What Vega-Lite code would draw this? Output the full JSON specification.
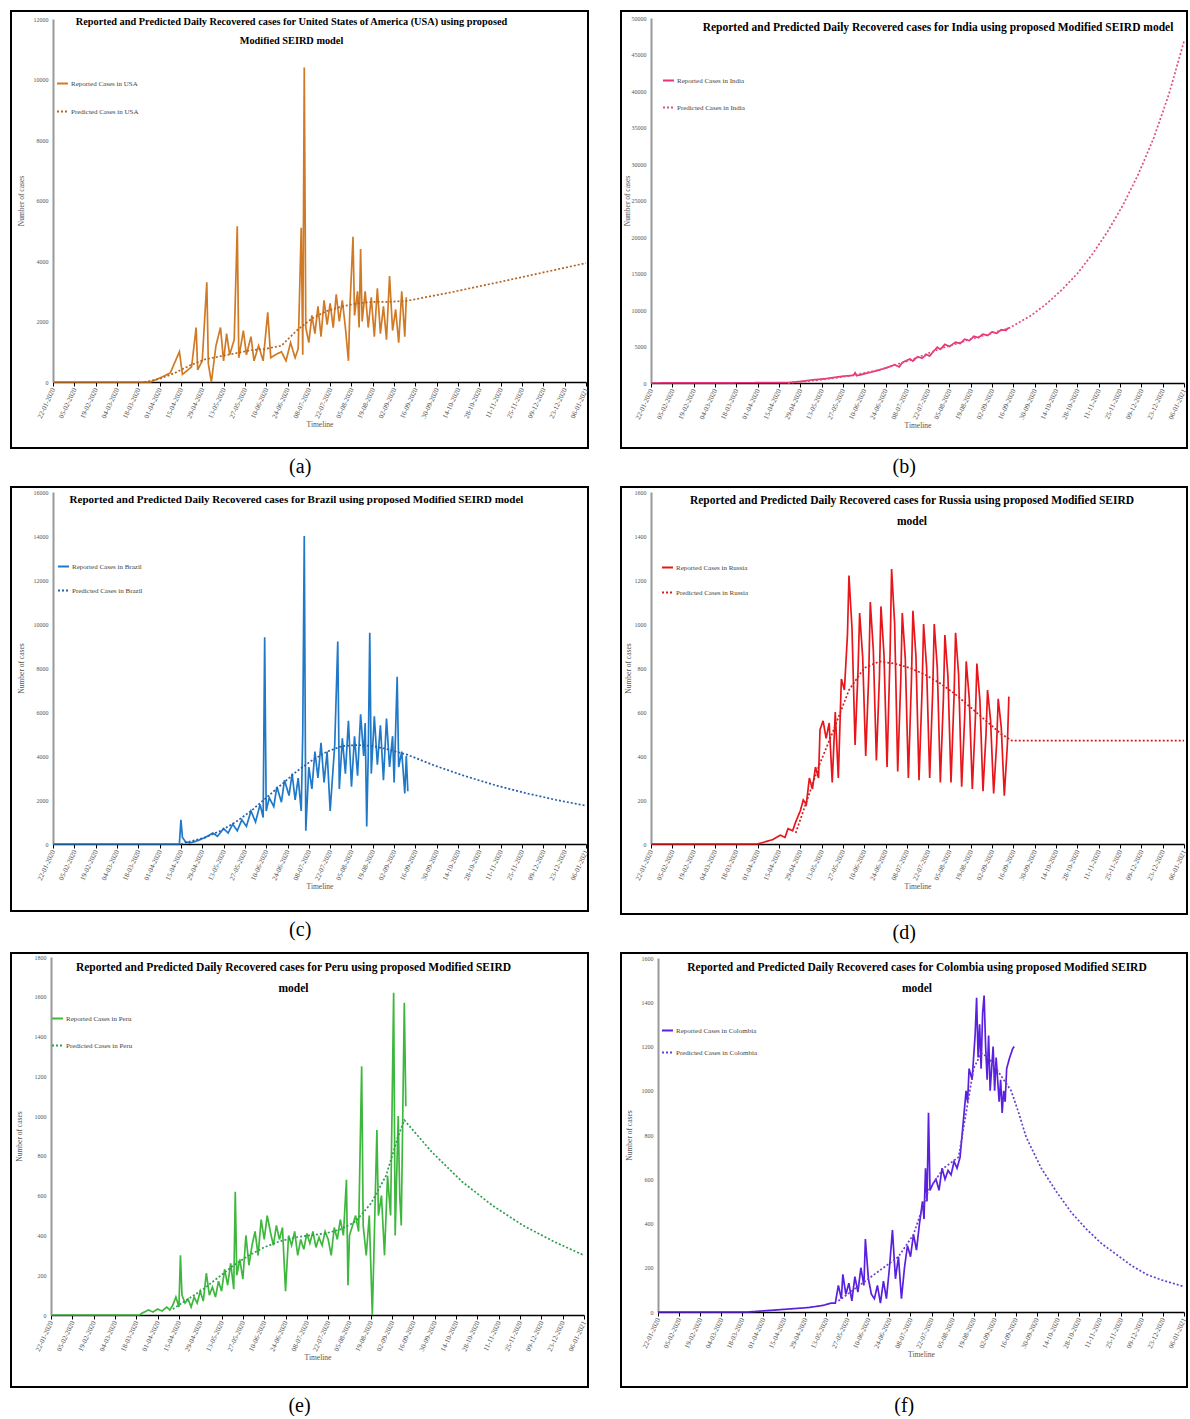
{
"$schema": "https://vega.github.io/schema/vega-lite/v6.json",
"padding": {"left": 10, "top": 10, "right": 0, "bottom": 0},
"autosize": {"type": "pad"},
"config": {
  "font": "Liberation Serif",
  "view": {"stroke": "black", "strokeWidth": 2},
  "axis": {"grid": false, "labelFont": "Liberation Serif", "titleFont": "Liberation Serif", "labelColor": "#555", "titleColor": "#555", "titleFontWeight": "normal"},
  "axisX": {"domainColor": "black", "domainWidth": 1.5, "tickColor": "black", "tickSize": 4, "labelAngle": 295, "labelFontSize": 7, "titleFontSize": 7.5, "titlePadding": 2, "labelExpr": "utcFormat(datum.value, '%d-%m-%Y')"},
  "axisY": {"domainColor": "#999", "domainWidth": 2, "ticks": false, "labelFontSize": 6, "labelPadding": 5, "titleFontSize": 7.5, "titleBaseline": "middle"},
  "legend": {"orient": "none", "title": null, "labelFontSize": 7, "labelFont": "Liberation Serif", "labelColor": "#444", "symbolType": "stroke", "symbolSize": 120, "symbolStrokeWidth": 2, "padding": 0, "labelOffset": 2},
  "title": {"font": "Liberation Serif", "fontWeight": "bold", "color": "black", "anchor": "middle", "frame": "group"}
},
"resolve": {"scale": {"color": "independent", "strokeDash": "independent", "x": "independent", "y": "independent"}, "legend": {"color": "independent", "strokeDash": "independent"}},
"spacing": 9,
"datasets": {
"usa": [
{"d":"2020-01-22","s":"Reported","v":0},{"d":"2020-03-26","s":"Reported","v":0},{"d":"2020-04-02","s":"Reported","v":150},{"d":"2020-04-08","s":"Reported","v":300},{"d":"2020-04-14","s":"Reported","v":1000},{"d":"2020-04-16","s":"Reported","v":250},{"d":"2020-04-22","s":"Reported","v":500},{"d":"2020-04-25","s":"Reported","v":1800},{"d":"2020-04-26","s":"Reported","v":400},{"d":"2020-04-29","s":"Reported","v":700},{"d":"2020-05-02","s":"Reported","v":3300},{"d":"2020-05-03","s":"Reported","v":600},{"d":"2020-05-05","s":"Reported","v":0},{"d":"2020-05-08","s":"Reported","v":1200},{"d":"2020-05-11","s":"Reported","v":1800},{"d":"2020-05-13","s":"Reported","v":700},{"d":"2020-05-15","s":"Reported","v":1600},{"d":"2020-05-17","s":"Reported","v":900},{"d":"2020-05-20","s":"Reported","v":1400},{"d":"2020-05-22","s":"Reported","v":5150},{"d":"2020-05-23","s":"Reported","v":800},{"d":"2020-05-26","s":"Reported","v":1700},{"d":"2020-05-28","s":"Reported","v":900},{"d":"2020-05-31","s":"Reported","v":1500},{"d":"2020-06-02","s":"Reported","v":700},{"d":"2020-06-05","s":"Reported","v":1200},{"d":"2020-06-08","s":"Reported","v":700},{"d":"2020-06-11","s":"Reported","v":2300},{"d":"2020-06-13","s":"Reported","v":800},{"d":"2020-06-16","s":"Reported","v":900},{"d":"2020-06-20","s":"Reported","v":1000},{"d":"2020-06-23","s":"Reported","v":700},{"d":"2020-06-26","s":"Reported","v":1300},{"d":"2020-06-29","s":"Reported","v":800},{"d":"2020-07-01","s":"Reported","v":1100},{"d":"2020-07-03","s":"Reported","v":5100},{"d":"2020-07-04","s":"Reported","v":900},{"d":"2020-07-05","s":"Reported","v":10400},{"d":"2020-07-06","s":"Reported","v":1800},{"d":"2020-07-08","s":"Reported","v":1300},{"d":"2020-07-10","s":"Reported","v":2200},{"d":"2020-07-12","s":"Reported","v":1600},{"d":"2020-07-14","s":"Reported","v":2500},{"d":"2020-07-16","s":"Reported","v":1500},{"d":"2020-07-18","s":"Reported","v":2700},{"d":"2020-07-20","s":"Reported","v":1900},{"d":"2020-07-22","s":"Reported","v":2600},{"d":"2020-07-24","s":"Reported","v":1800},{"d":"2020-07-26","s":"Reported","v":2900},{"d":"2020-07-28","s":"Reported","v":2000},{"d":"2020-07-30","s":"Reported","v":2700},{"d":"2020-08-01","s":"Reported","v":1800},{"d":"2020-08-03","s":"Reported","v":700},{"d":"2020-08-04","s":"Reported","v":2500},{"d":"2020-08-06","s":"Reported","v":4800},{"d":"2020-08-07","s":"Reported","v":2200},{"d":"2020-08-09","s":"Reported","v":3000},{"d":"2020-08-10","s":"Reported","v":1800},{"d":"2020-08-11","s":"Reported","v":4400},{"d":"2020-08-12","s":"Reported","v":2000},{"d":"2020-08-14","s":"Reported","v":3000},{"d":"2020-08-16","s":"Reported","v":1800},{"d":"2020-08-18","s":"Reported","v":2800},{"d":"2020-08-20","s":"Reported","v":1500},{"d":"2020-08-22","s":"Reported","v":3100},{"d":"2020-08-24","s":"Reported","v":1600},{"d":"2020-08-26","s":"Reported","v":2500},{"d":"2020-08-28","s":"Reported","v":1400},{"d":"2020-08-30","s":"Reported","v":3500},{"d":"2020-09-01","s":"Reported","v":1700},{"d":"2020-09-03","s":"Reported","v":2400},{"d":"2020-09-05","s":"Reported","v":1300},{"d":"2020-09-07","s":"Reported","v":3000},{"d":"2020-09-09","s":"Reported","v":1500},{"d":"2020-09-10","s":"Reported","v":2800},
{"d":"2020-03-22","s":"Predicted","v":0},{"d":"2020-04-01","s":"Predicted","v":100},{"d":"2020-04-11","s":"Predicted","v":300},{"d":"2020-04-21","s":"Predicted","v":550},{"d":"2020-05-01","s":"Predicted","v":750},{"d":"2020-05-11","s":"Predicted","v":850},{"d":"2020-05-21","s":"Predicted","v":950},{"d":"2020-05-31","s":"Predicted","v":1050},{"d":"2020-06-10","s":"Predicted","v":1100},{"d":"2020-06-20","s":"Predicted","v":1200},{"d":"2020-06-30","s":"Predicted","v":1700},{"d":"2020-07-10","s":"Predicted","v":2100},{"d":"2020-07-20","s":"Predicted","v":2350},{"d":"2020-07-30","s":"Predicted","v":2500},{"d":"2020-08-09","s":"Predicted","v":2600},{"d":"2020-08-19","s":"Predicted","v":2650},{"d":"2020-08-29","s":"Predicted","v":2650},{"d":"2020-09-10","s":"Predicted","v":2680},{"d":"2020-10-08","s":"Predicted","v":2950},{"d":"2020-11-07","s":"Predicted","v":3270},{"d":"2020-12-07","s":"Predicted","v":3600},{"d":"2021-01-06","s":"Predicted","v":3930}
],
"india": [
{"d":"2020-01-22","s":"Reported","v":0},{"d":"2020-04-21","s":"Reported","v":50},{"d":"2020-04-26","s":"Reported","v":150},{"d":"2020-05-01","s":"Reported","v":250},{"d":"2020-05-06","s":"Reported","v":400},{"d":"2020-05-11","s":"Reported","v":500},{"d":"2020-05-16","s":"Reported","v":600},{"d":"2020-05-21","s":"Reported","v":750},{"d":"2020-05-26","s":"Reported","v":900},{"d":"2020-05-31","s":"Reported","v":1000},{"d":"2020-06-03","s":"Reported","v":1050},{"d":"2020-06-04","s":"Reported","v":1400},{"d":"2020-06-05","s":"Reported","v":1000},{"d":"2020-06-10","s":"Reported","v":1250},{"d":"2020-06-15","s":"Reported","v":1500},{"d":"2020-06-20","s":"Reported","v":1800},{"d":"2020-06-25","s":"Reported","v":2100},{"d":"2020-06-30","s":"Reported","v":2500},{"d":"2020-07-03","s":"Reported","v":2200},{"d":"2020-07-05","s":"Reported","v":2800},{"d":"2020-07-10","s":"Reported","v":3300},{"d":"2020-07-12","s":"Reported","v":3000},{"d":"2020-07-15","s":"Reported","v":3600},{"d":"2020-07-18","s":"Reported","v":3400},{"d":"2020-07-21","s":"Reported","v":3900},{"d":"2020-07-23","s":"Reported","v":3700},{"d":"2020-07-25","s":"Reported","v":4200},{"d":"2020-07-28","s":"Reported","v":4900},{"d":"2020-07-30","s":"Reported","v":4600},{"d":"2020-08-02","s":"Reported","v":5300},{"d":"2020-08-05","s":"Reported","v":5000},{"d":"2020-08-09","s":"Reported","v":5600},{"d":"2020-08-12","s":"Reported","v":5400},{"d":"2020-08-15","s":"Reported","v":6000},{"d":"2020-08-18","s":"Reported","v":5800},{"d":"2020-08-21","s":"Reported","v":6400},{"d":"2020-08-24","s":"Reported","v":6200},{"d":"2020-08-27","s":"Reported","v":6700},{"d":"2020-08-30","s":"Reported","v":6500},{"d":"2020-09-02","s":"Reported","v":7000},{"d":"2020-09-05","s":"Reported","v":6800},{"d":"2020-09-08","s":"Reported","v":7300},{"d":"2020-09-11","s":"Reported","v":7200},{"d":"2020-09-13","s":"Reported","v":7600},
{"d":"2020-04-21","s":"Predicted","v":0},{"d":"2020-05-11","s":"Predicted","v":400},{"d":"2020-05-31","s":"Predicted","v":950},{"d":"2020-06-20","s":"Predicted","v":1800},{"d":"2020-07-10","s":"Predicted","v":3100},{"d":"2020-07-30","s":"Predicted","v":4700},{"d":"2020-08-19","s":"Predicted","v":6000},{"d":"2020-09-13","s":"Predicted","v":7500},{"d":"2020-09-28","s":"Predicted","v":9300},{"d":"2020-10-08","s":"Predicted","v":10900},{"d":"2020-10-18","s":"Predicted","v":12800},{"d":"2020-10-28","s":"Predicted","v":15000},{"d":"2020-11-07","s":"Predicted","v":17700},{"d":"2020-11-17","s":"Predicted","v":20800},{"d":"2020-11-27","s":"Predicted","v":24400},{"d":"2020-12-07","s":"Predicted","v":28600},{"d":"2020-12-17","s":"Predicted","v":33500},{"d":"2020-12-27","s":"Predicted","v":39500},{"d":"2021-01-06","s":"Predicted","v":46800}
],
"brazil": [
{"d":"2020-01-22","s":"Reported","v":0},{"d":"2020-04-14","s":"Reported","v":0},{"d":"2020-04-15","s":"Reported","v":1100},{"d":"2020-04-16","s":"Reported","v":300},{"d":"2020-04-18","s":"Reported","v":100},{"d":"2020-04-21","s":"Reported","v":50},{"d":"2020-04-26","s":"Reported","v":150},{"d":"2020-05-01","s":"Reported","v":300},{"d":"2020-05-06","s":"Reported","v":500},{"d":"2020-05-09","s":"Reported","v":350},{"d":"2020-05-13","s":"Reported","v":700},{"d":"2020-05-16","s":"Reported","v":500},{"d":"2020-05-19","s":"Reported","v":900},{"d":"2020-05-22","s":"Reported","v":600},{"d":"2020-05-25","s":"Reported","v":1100},{"d":"2020-05-28","s":"Reported","v":800},{"d":"2020-05-31","s":"Reported","v":1500},{"d":"2020-06-03","s":"Reported","v":1000},{"d":"2020-06-06","s":"Reported","v":1800},{"d":"2020-06-08","s":"Reported","v":1200},{"d":"2020-06-09","s":"Reported","v":9400},{"d":"2020-06-10","s":"Reported","v":1500},{"d":"2020-06-12","s":"Reported","v":2100},{"d":"2020-06-15","s":"Reported","v":1700},{"d":"2020-06-17","s":"Reported","v":2600},{"d":"2020-06-20","s":"Reported","v":1900},{"d":"2020-06-22","s":"Reported","v":2900},{"d":"2020-06-25","s":"Reported","v":2200},{"d":"2020-06-27","s":"Reported","v":3200},{"d":"2020-06-29","s":"Reported","v":2000},{"d":"2020-07-01","s":"Reported","v":3000},{"d":"2020-07-03","s":"Reported","v":1500},{"d":"2020-07-04","s":"Reported","v":5000},{"d":"2020-07-05","s":"Reported","v":14000},{"d":"2020-07-06","s":"Reported","v":600},{"d":"2020-07-08","s":"Reported","v":3500},{"d":"2020-07-10","s":"Reported","v":2500},{"d":"2020-07-12","s":"Reported","v":4200},{"d":"2020-07-14","s":"Reported","v":3000},{"d":"2020-07-16","s":"Reported","v":4600},{"d":"2020-07-18","s":"Reported","v":2800},{"d":"2020-07-20","s":"Reported","v":4200},{"d":"2020-07-22","s":"Reported","v":1500},{"d":"2020-07-25","s":"Reported","v":4500},{"d":"2020-07-27","s":"Reported","v":9200},{"d":"2020-07-28","s":"Reported","v":2500},{"d":"2020-07-30","s":"Reported","v":4800},{"d":"2020-08-01","s":"Reported","v":3200},{"d":"2020-08-03","s":"Reported","v":5600},{"d":"2020-08-05","s":"Reported","v":2600},{"d":"2020-08-07","s":"Reported","v":4900},{"d":"2020-08-09","s":"Reported","v":3100},{"d":"2020-08-11","s":"Reported","v":5900},{"d":"2020-08-13","s":"Reported","v":4000},{"d":"2020-08-14","s":"Reported","v":5500},{"d":"2020-08-15","s":"Reported","v":800},{"d":"2020-08-16","s":"Reported","v":4000},{"d":"2020-08-17","s":"Reported","v":9600},{"d":"2020-08-18","s":"Reported","v":3200},{"d":"2020-08-20","s":"Reported","v":5800},{"d":"2020-08-22","s":"Reported","v":3600},{"d":"2020-08-24","s":"Reported","v":5400},{"d":"2020-08-26","s":"Reported","v":2900},{"d":"2020-08-28","s":"Reported","v":5700},{"d":"2020-08-30","s":"Reported","v":3500},{"d":"2020-09-01","s":"Reported","v":4900},{"d":"2020-09-02","s":"Reported","v":2800},{"d":"2020-09-04","s":"Reported","v":7600},{"d":"2020-09-05","s":"Reported","v":3500},{"d":"2020-09-07","s":"Reported","v":4200},{"d":"2020-09-09","s":"Reported","v":2300},{"d":"2020-09-10","s":"Reported","v":4000},{"d":"2020-09-11","s":"Reported","v":2400},
{"d":"2020-04-15","s":"Predicted","v":0},{"d":"2020-05-01","s":"Predicted","v":300},{"d":"2020-05-11","s":"Predicted","v":600},{"d":"2020-05-21","s":"Predicted","v":1000},{"d":"2020-05-31","s":"Predicted","v":1500},{"d":"2020-06-10","s":"Predicted","v":2100},{"d":"2020-06-20","s":"Predicted","v":2700},{"d":"2020-06-30","s":"Predicted","v":3300},{"d":"2020-07-10","s":"Predicted","v":3800},{"d":"2020-07-20","s":"Predicted","v":4200},{"d":"2020-07-30","s":"Predicted","v":4450},{"d":"2020-08-09","s":"Predicted","v":4500},{"d":"2020-08-19","s":"Predicted","v":4450},{"d":"2020-08-29","s":"Predicted","v":4300},{"d":"2020-09-11","s":"Predicted","v":4050},{"d":"2020-09-28","s":"Predicted","v":3580},{"d":"2020-10-18","s":"Predicted","v":3100},{"d":"2020-11-07","s":"Predicted","v":2680},{"d":"2020-11-27","s":"Predicted","v":2320},{"d":"2020-12-17","s":"Predicted","v":2010},{"d":"2021-01-06","s":"Predicted","v":1740}
],
"russia": [
{"d":"2020-01-22","s":"Reported","v":0},{"d":"2020-04-01","s":"Reported","v":0},{"d":"2020-04-06","s":"Reported","v":10},{"d":"2020-04-11","s":"Reported","v":20},{"d":"2020-04-16","s":"Reported","v":40},{"d":"2020-04-19","s":"Reported","v":30},{"d":"2020-04-21","s":"Reported","v":70},{"d":"2020-04-24","s":"Reported","v":60},{"d":"2020-04-26","s":"Reported","v":100},{"d":"2020-04-29","s":"Reported","v":150},{"d":"2020-05-01","s":"Reported","v":200},{"d":"2020-05-03","s":"Reported","v":180},{"d":"2020-05-05","s":"Reported","v":300},{"d":"2020-05-07","s":"Reported","v":250},{"d":"2020-05-09","s":"Reported","v":350},{"d":"2020-05-11","s":"Reported","v":300},{"d":"2020-05-12","s":"Reported","v":520},{"d":"2020-05-14","s":"Reported","v":560},{"d":"2020-05-16","s":"Reported","v":480},{"d":"2020-05-18","s":"Reported","v":550},{"d":"2020-05-20","s":"Reported","v":280},{"d":"2020-05-22","s":"Reported","v":600},{"d":"2020-05-24","s":"Reported","v":300},{"d":"2020-05-26","s":"Reported","v":750},{"d":"2020-05-28","s":"Reported","v":700},{"d":"2020-05-30","s":"Reported","v":950},{"d":"2020-05-31","s":"Reported","v":1220},{"d":"2020-06-02","s":"Reported","v":980},{"d":"2020-06-04","s":"Reported","v":450},{"d":"2020-06-06","s":"Reported","v":800},{"d":"2020-06-07","s":"Reported","v":1050},{"d":"2020-06-09","s":"Reported","v":850},{"d":"2020-06-11","s":"Reported","v":400},{"d":"2020-06-13","s":"Reported","v":770},{"d":"2020-06-14","s":"Reported","v":1100},{"d":"2020-06-16","s":"Reported","v":880},{"d":"2020-06-18","s":"Reported","v":380},{"d":"2020-06-20","s":"Reported","v":760},{"d":"2020-06-21","s":"Reported","v":1080},{"d":"2020-06-23","s":"Reported","v":860},{"d":"2020-06-25","s":"Reported","v":350},{"d":"2020-06-27","s":"Reported","v":870},{"d":"2020-06-28","s":"Reported","v":1250},{"d":"2020-06-30","s":"Reported","v":1000},{"d":"2020-07-02","s":"Reported","v":330},{"d":"2020-07-04","s":"Reported","v":740},{"d":"2020-07-05","s":"Reported","v":1050},{"d":"2020-07-07","s":"Reported","v":840},{"d":"2020-07-09","s":"Reported","v":300},{"d":"2020-07-11","s":"Reported","v":740},{"d":"2020-07-12","s":"Reported","v":1060},{"d":"2020-07-14","s":"Reported","v":850},{"d":"2020-07-16","s":"Reported","v":290},{"d":"2020-07-18","s":"Reported","v":700},{"d":"2020-07-19","s":"Reported","v":1000},{"d":"2020-07-21","s":"Reported","v":800},{"d":"2020-07-23","s":"Reported","v":300},{"d":"2020-07-25","s":"Reported","v":700},{"d":"2020-07-26","s":"Reported","v":1000},{"d":"2020-07-28","s":"Reported","v":800},{"d":"2020-07-30","s":"Reported","v":280},{"d":"2020-08-01","s":"Reported","v":660},{"d":"2020-08-02","s":"Reported","v":950},{"d":"2020-08-04","s":"Reported","v":760},{"d":"2020-08-06","s":"Reported","v":280},{"d":"2020-08-08","s":"Reported","v":670},{"d":"2020-08-09","s":"Reported","v":960},{"d":"2020-08-11","s":"Reported","v":770},{"d":"2020-08-13","s":"Reported","v":260},{"d":"2020-08-15","s":"Reported","v":580},{"d":"2020-08-16","s":"Reported","v":830},{"d":"2020-08-18","s":"Reported","v":660},{"d":"2020-08-20","s":"Reported","v":250},{"d":"2020-08-22","s":"Reported","v":570},{"d":"2020-08-23","s":"Reported","v":820},{"d":"2020-08-25","s":"Reported","v":650},{"d":"2020-08-27","s":"Reported","v":240},{"d":"2020-08-29","s":"Reported","v":500},{"d":"2020-08-30","s":"Reported","v":700},{"d":"2020-09-01","s":"Reported","v":560},{"d":"2020-09-03","s":"Reported","v":230},{"d":"2020-09-05","s":"Reported","v":460},{"d":"2020-09-06","s":"Reported","v":660},{"d":"2020-09-08","s":"Reported","v":530},{"d":"2020-09-10","s":"Reported","v":220},{"d":"2020-09-12","s":"Reported","v":450},{"d":"2020-09-13","s":"Reported","v":670},
{"d":"2020-04-26","s":"Predicted","v":50},{"d":"2020-05-01","s":"Predicted","v":150},{"d":"2020-05-11","s":"Predicted","v":350},{"d":"2020-05-21","s":"Predicted","v":520},{"d":"2020-05-31","s":"Predicted","v":700},{"d":"2020-06-10","s":"Predicted","v":800},{"d":"2020-06-20","s":"Predicted","v":830},{"d":"2020-06-30","s":"Predicted","v":820},{"d":"2020-07-10","s":"Predicted","v":800},{"d":"2020-07-20","s":"Predicted","v":770},{"d":"2020-07-30","s":"Predicted","v":730},{"d":"2020-08-09","s":"Predicted","v":680},{"d":"2020-08-19","s":"Predicted","v":620},{"d":"2020-08-29","s":"Predicted","v":560},{"d":"2020-09-08","s":"Predicted","v":500},{"d":"2020-09-15","s":"Predicted","v":470},{"d":"2020-10-08","s":"Predicted","v":470},{"d":"2020-11-07","s":"Predicted","v":470},{"d":"2020-12-07","s":"Predicted","v":470},{"d":"2021-01-06","s":"Predicted","v":470}
],
"peru": [
{"d":"2020-01-22","s":"Reported","v":0},{"d":"2020-03-20","s":"Reported","v":0},{"d":"2020-03-22","s":"Reported","v":10},{"d":"2020-03-26","s":"Reported","v":25},{"d":"2020-03-29","s":"Reported","v":15},{"d":"2020-04-01","s":"Reported","v":30},{"d":"2020-04-04","s":"Reported","v":20},{"d":"2020-04-07","s":"Reported","v":40},{"d":"2020-04-09","s":"Reported","v":25},{"d":"2020-04-11","s":"Reported","v":50},{"d":"2020-04-13","s":"Reported","v":90},{"d":"2020-04-15","s":"Reported","v":40},{"d":"2020-04-16","s":"Reported","v":300},{"d":"2020-04-17","s":"Reported","v":100},{"d":"2020-04-19","s":"Reported","v":60},{"d":"2020-04-21","s":"Reported","v":80},{"d":"2020-04-23","s":"Reported","v":40},{"d":"2020-04-25","s":"Reported","v":90},{"d":"2020-04-27","s":"Reported","v":60},{"d":"2020-04-29","s":"Reported","v":120},{"d":"2020-05-01","s":"Reported","v":70},{"d":"2020-05-03","s":"Reported","v":210},{"d":"2020-05-05","s":"Reported","v":100},{"d":"2020-05-07","s":"Reported","v":140},{"d":"2020-05-09","s":"Reported","v":90},{"d":"2020-05-11","s":"Reported","v":170},{"d":"2020-05-13","s":"Reported","v":120},{"d":"2020-05-15","s":"Reported","v":230},{"d":"2020-05-17","s":"Reported","v":150},{"d":"2020-05-19","s":"Reported","v":260},{"d":"2020-05-21","s":"Reported","v":130},{"d":"2020-05-22","s":"Reported","v":620},{"d":"2020-05-23","s":"Reported","v":200},{"d":"2020-05-25","s":"Reported","v":280},{"d":"2020-05-27","s":"Reported","v":180},{"d":"2020-05-29","s":"Reported","v":400},{"d":"2020-05-31","s":"Reported","v":250},{"d":"2020-06-02","s":"Reported","v":350},{"d":"2020-06-04","s":"Reported","v":420},{"d":"2020-06-06","s":"Reported","v":300},{"d":"2020-06-08","s":"Reported","v":480},{"d":"2020-06-10","s":"Reported","v":380},{"d":"2020-06-12","s":"Reported","v":500},{"d":"2020-06-14","s":"Reported","v":420},{"d":"2020-06-16","s":"Reported","v":350},{"d":"2020-06-18","s":"Reported","v":450},{"d":"2020-06-20","s":"Reported","v":380},{"d":"2020-06-22","s":"Reported","v":440},{"d":"2020-06-24","s":"Reported","v":120},{"d":"2020-06-26","s":"Reported","v":400},{"d":"2020-06-28","s":"Reported","v":350},{"d":"2020-06-30","s":"Reported","v":420},{"d":"2020-07-02","s":"Reported","v":300},{"d":"2020-07-04","s":"Reported","v":380},{"d":"2020-07-06","s":"Reported","v":330},{"d":"2020-07-08","s":"Reported","v":410},{"d":"2020-07-10","s":"Reported","v":360},{"d":"2020-07-12","s":"Reported","v":420},{"d":"2020-07-14","s":"Reported","v":340},{"d":"2020-07-16","s":"Reported","v":390},{"d":"2020-07-18","s":"Reported","v":350},{"d":"2020-07-20","s":"Reported","v":420},{"d":"2020-07-22","s":"Reported","v":380},{"d":"2020-07-24","s":"Reported","v":300},{"d":"2020-07-26","s":"Reported","v":440},{"d":"2020-07-28","s":"Reported","v":380},{"d":"2020-07-30","s":"Reported","v":480},{"d":"2020-08-01","s":"Reported","v":400},{"d":"2020-08-03","s":"Reported","v":680},{"d":"2020-08-04","s":"Reported","v":150},{"d":"2020-08-05","s":"Reported","v":400},{"d":"2020-08-07","s":"Reported","v":450},{"d":"2020-08-09","s":"Reported","v":500},{"d":"2020-08-11","s":"Reported","v":420},{"d":"2020-08-13","s":"Reported","v":1250},{"d":"2020-08-14","s":"Reported","v":450},{"d":"2020-08-16","s":"Reported","v":300},{"d":"2020-08-18","s":"Reported","v":500},{"d":"2020-08-20","s":"Reported","v":0},{"d":"2020-08-21","s":"Reported","v":300},{"d":"2020-08-23","s":"Reported","v":930},{"d":"2020-08-24","s":"Reported","v":500},{"d":"2020-08-26","s":"Reported","v":600},{"d":"2020-08-28","s":"Reported","v":300},{"d":"2020-08-30","s":"Reported","v":700},{"d":"2020-09-01","s":"Reported","v":500},{"d":"2020-09-03","s":"Reported","v":1620},{"d":"2020-09-04","s":"Reported","v":400},{"d":"2020-09-06","s":"Reported","v":1000},{"d":"2020-09-07","s":"Reported","v":600},{"d":"2020-09-08","s":"Reported","v":450},{"d":"2020-09-10","s":"Reported","v":1570},{"d":"2020-09-11","s":"Reported","v":1050},
{"d":"2020-04-11","s":"Predicted","v":30},{"d":"2020-04-21","s":"Predicted","v":80},{"d":"2020-05-01","s":"Predicted","v":130},{"d":"2020-05-11","s":"Predicted","v":190},{"d":"2020-05-21","s":"Predicted","v":250},{"d":"2020-05-31","s":"Predicted","v":300},{"d":"2020-06-10","s":"Predicted","v":340},{"d":"2020-06-20","s":"Predicted","v":370},{"d":"2020-06-30","s":"Predicted","v":390},{"d":"2020-07-10","s":"Predicted","v":400},{"d":"2020-07-20","s":"Predicted","v":410},{"d":"2020-07-30","s":"Predicted","v":430},{"d":"2020-08-09","s":"Predicted","v":470},{"d":"2020-08-19","s":"Predicted","v":560},{"d":"2020-08-29","s":"Predicted","v":700},{"d":"2020-09-06","s":"Predicted","v":900},{"d":"2020-09-10","s":"Predicted","v":980},{"d":"2020-09-28","s":"Predicted","v":820},{"d":"2020-10-18","s":"Predicted","v":670},{"d":"2020-11-07","s":"Predicted","v":550},{"d":"2020-11-27","s":"Predicted","v":450},{"d":"2020-12-17","s":"Predicted","v":370},{"d":"2021-01-06","s":"Predicted","v":300}
],
"colombia": [
{"d":"2020-01-22","s":"Reported","v":0},{"d":"2020-03-22","s":"Reported","v":0},{"d":"2020-04-01","s":"Reported","v":5},{"d":"2020-04-11","s":"Reported","v":10},{"d":"2020-04-21","s":"Reported","v":15},{"d":"2020-05-01","s":"Reported","v":20},{"d":"2020-05-06","s":"Reported","v":25},{"d":"2020-05-11","s":"Reported","v":30},{"d":"2020-05-16","s":"Reported","v":40},{"d":"2020-05-19","s":"Reported","v":40},{"d":"2020-05-21","s":"Reported","v":120},{"d":"2020-05-23","s":"Reported","v":60},{"d":"2020-05-24","s":"Reported","v":170},{"d":"2020-05-26","s":"Reported","v":80},{"d":"2020-05-28","s":"Reported","v":130},{"d":"2020-05-30","s":"Reported","v":50},{"d":"2020-06-01","s":"Reported","v":160},{"d":"2020-06-03","s":"Reported","v":90},{"d":"2020-06-05","s":"Reported","v":200},{"d":"2020-06-07","s":"Reported","v":120},{"d":"2020-06-08","s":"Reported","v":330},{"d":"2020-06-10","s":"Reported","v":150},{"d":"2020-06-12","s":"Reported","v":80},{"d":"2020-06-14","s":"Reported","v":60},{"d":"2020-06-16","s":"Reported","v":120},{"d":"2020-06-18","s":"Reported","v":40},{"d":"2020-06-20","s":"Reported","v":140},{"d":"2020-06-22","s":"Reported","v":60},{"d":"2020-06-24","s":"Reported","v":200},{"d":"2020-06-26","s":"Reported","v":370},{"d":"2020-06-28","s":"Reported","v":150},{"d":"2020-06-30","s":"Reported","v":250},{"d":"2020-07-02","s":"Reported","v":60},{"d":"2020-07-04","s":"Reported","v":200},{"d":"2020-07-06","s":"Reported","v":300},{"d":"2020-07-08","s":"Reported","v":250},{"d":"2020-07-10","s":"Reported","v":350},{"d":"2020-07-12","s":"Reported","v":280},{"d":"2020-07-14","s":"Reported","v":400},{"d":"2020-07-16","s":"Reported","v":500},{"d":"2020-07-17","s":"Reported","v":420},{"d":"2020-07-18","s":"Reported","v":650},{"d":"2020-07-19","s":"Reported","v":500},{"d":"2020-07-20","s":"Reported","v":900},{"d":"2020-07-21","s":"Reported","v":550},{"d":"2020-07-23","s":"Reported","v":580},{"d":"2020-07-25","s":"Reported","v":600},{"d":"2020-07-27","s":"Reported","v":550},{"d":"2020-07-29","s":"Reported","v":650},{"d":"2020-07-31","s":"Reported","v":600},{"d":"2020-08-02","s":"Reported","v":640},{"d":"2020-08-04","s":"Reported","v":620},{"d":"2020-08-06","s":"Reported","v":680},{"d":"2020-08-08","s":"Reported","v":650},{"d":"2020-08-10","s":"Reported","v":700},{"d":"2020-08-12","s":"Reported","v":850},{"d":"2020-08-14","s":"Reported","v":1000},{"d":"2020-08-15","s":"Reported","v":950},{"d":"2020-08-16","s":"Reported","v":1100},{"d":"2020-08-18","s":"Reported","v":1050},{"d":"2020-08-20","s":"Reported","v":1250},{"d":"2020-08-21","s":"Reported","v":1420},{"d":"2020-08-22","s":"Reported","v":1150},{"d":"2020-08-23","s":"Reported","v":1300},{"d":"2020-08-24","s":"Reported","v":1100},{"d":"2020-08-25","s":"Reported","v":1350},{"d":"2020-08-26","s":"Reported","v":1430},{"d":"2020-08-27","s":"Reported","v":1200},{"d":"2020-08-28","s":"Reported","v":1050},{"d":"2020-08-29","s":"Reported","v":1250},{"d":"2020-08-30","s":"Reported","v":1000},{"d":"2020-08-31","s":"Reported","v":1100},{"d":"2020-09-01","s":"Reported","v":1200},{"d":"2020-09-02","s":"Reported","v":1000},{"d":"2020-09-03","s":"Reported","v":1150},{"d":"2020-09-04","s":"Reported","v":1050},{"d":"2020-09-05","s":"Reported","v":950},{"d":"2020-09-06","s":"Reported","v":1050},{"d":"2020-09-07","s":"Reported","v":900},{"d":"2020-09-08","s":"Reported","v":1000},{"d":"2020-09-09","s":"Reported","v":950},{"d":"2020-09-10","s":"Reported","v":1100},{"d":"2020-09-12","s":"Reported","v":1150},{"d":"2020-09-14","s":"Reported","v":1190},{"d":"2020-09-15","s":"Reported","v":1200},
{"d":"2020-05-21","s":"Predicted","v":50},{"d":"2020-06-10","s":"Predicted","v":150},{"d":"2020-06-30","s":"Predicted","v":250},{"d":"2020-07-10","s":"Predicted","v":350},{"d":"2020-07-20","s":"Predicted","v":550},{"d":"2020-07-30","s":"Predicted","v":650},{"d":"2020-08-09","s":"Predicted","v":700},{"d":"2020-08-14","s":"Predicted","v":900},{"d":"2020-08-19","s":"Predicted","v":1100},{"d":"2020-08-24","s":"Predicted","v":1170},{"d":"2020-08-29","s":"Predicted","v":1150},{"d":"2020-09-03","s":"Predicted","v":1100},{"d":"2020-09-08","s":"Predicted","v":1050},{"d":"2020-09-13","s":"Predicted","v":1000},{"d":"2020-09-18","s":"Predicted","v":900},{"d":"2020-09-23","s":"Predicted","v":790},{"d":"2020-10-03","s":"Predicted","v":650},{"d":"2020-10-13","s":"Predicted","v":545},{"d":"2020-10-23","s":"Predicted","v":450},{"d":"2020-11-02","s":"Predicted","v":375},{"d":"2020-11-12","s":"Predicted","v":310},{"d":"2020-11-22","s":"Predicted","v":260},{"d":"2020-12-02","s":"Predicted","v":210},{"d":"2020-12-12","s":"Predicted","v":170},{"d":"2020-12-22","s":"Predicted","v":145},{"d":"2021-01-06","s":"Predicted","v":115}
]
},
"vconcat": [
{"hconcat": [
 {"resolve": {"scale": {"color": "independent", "strokeDash": "independent"}, "legend": {"color": "independent", "strokeDash": "independent"}},
  "title": {"text": "(a)", "orient": "bottom", "offset": 8, "fontSize": 20, "fontWeight": "normal", "frame": "bounds"},
  "vconcat": [{
   "width": 577, "height": 437,
   "data": {"name": "usa"},
   "title": {"text": ["Reported and Predicted Daily Recovered cases for United States of America (USA) using proposed", "Modified SEIRD model"], "fontSize": 10.3, "lineHeight": 19, "offset": -35, "dx": -8},
   "mark": {"type": "line", "strokeWidth": 1.7},
   "encoding": {
    "x": {"field": "d", "type": "temporal", "scale": {"type": "utc", "domain": [1579651200000, 1609891200000], "range": [42, 575]}, "axis": {"offset": -66, "title": "Timeline", "values": [1579651200000,1580860800000,1582070400000,1583280000000,1584489600000,1585699200000,1586908800000,1588118400000,1589328000000,1590537600000,1591747200000,1592956800000,1594166400000,1595376000000,1596585600000,1597795200000,1599004800000,1600214400000,1601424000000,1602633600000,1603843200000,1605052800000,1606262400000,1607472000000,1608681600000,1609891200000]}},
    "y": {"field": "v", "type": "quantitative", "scale": {"domain": [0, 12000], "range": [371, 8]}, "axis": {"offset": -42, "format": "d", "title": "Number of cases", "titleX": -32, "values": [0,2000,4000,6000,8000,10000,12000]}},
    "color": {"field": "s", "type": "nominal", "scale": {"domain": ["Reported", "Predicted"], "range": ["#D07A25", "#B8631E"]}, "legend": {"legendX": 45, "legendY": 66, "rowPadding": 17, "labelExpr": "datum.label + ' Cases in USA'"}},
    "strokeDash": {"field": "s", "type": "nominal", "scale": {"domain": ["Reported", "Predicted"], "range": [[1, 0], [2, 2]]}, "legend": {"legendX": 45, "legendY": 66, "rowPadding": 17, "labelExpr": "datum.label + ' Cases in USA'"}}
   }
  }]
 },
 {"resolve": {"scale": {"color": "independent", "strokeDash": "independent"}, "legend": {"color": "independent", "strokeDash": "independent"}},
  "title": {"text": "(b)", "orient": "bottom", "offset": 8, "fontSize": 20, "fontWeight": "normal", "frame": "bounds"},
  "vconcat": [{
   "width": 566, "height": 437,
   "data": {"name": "india"},
   "title": {"text": "Reported and Predicted Daily Recovered cases for India using proposed Modified SEIRD model", "fontSize": 11.5, "offset": -22, "dx": 34},
   "mark": {"type": "line", "strokeWidth": 1.7},
   "encoding": {
    "x": {"field": "d", "type": "temporal", "scale": {"type": "utc", "domain": [1579651200000, 1609891200000], "range": [30, 563]}, "axis": {"offset": -65, "title": "Timeline", "values": [1579651200000,1580860800000,1582070400000,1583280000000,1584489600000,1585699200000,1586908800000,1588118400000,1589328000000,1590537600000,1591747200000,1592956800000,1594166400000,1595376000000,1596585600000,1597795200000,1599004800000,1600214400000,1601424000000,1602633600000,1603843200000,1605052800000,1606262400000,1607472000000,1608681600000,1609891200000]}},
    "y": {"field": "v", "type": "quantitative", "scale": {"domain": [0, 50000], "range": [372, 7]}, "axis": {"offset": -30, "format": "d", "title": "Number of cases", "titleX": -24, "values": [0,5000,10000,15000,20000,25000,30000,35000,40000,45000,50000]}},
    "color": {"field": "s", "type": "nominal", "scale": {"domain": ["Reported", "Predicted"], "range": ["#E8327C", "#E0507A"]}, "legend": {"legendX": 41, "legendY": 63, "rowPadding": 16, "labelExpr": "datum.label + ' Cases in India'"}},
    "strokeDash": {"field": "s", "type": "nominal", "scale": {"domain": ["Reported", "Predicted"], "range": [[1, 0], [2, 2]]}, "legend": {"legendX": 41, "legendY": 63, "rowPadding": 16, "labelExpr": "datum.label + ' Cases in India'"}}
   }
  }]
 }
], "spacing": 29, "resolve": {"scale": {"color": "independent", "strokeDash": "independent"}, "legend": {"color": "independent", "strokeDash": "independent"}}},
{"hconcat": [
 {"resolve": {"scale": {"color": "independent", "strokeDash": "independent"}, "legend": {"color": "independent", "strokeDash": "independent"}},
  "title": {"text": "(c)", "orient": "bottom", "offset": 8, "fontSize": 20, "fontWeight": "normal", "frame": "bounds"},
  "vconcat": [{
   "width": 577, "height": 424,
   "data": {"name": "brazil"},
   "title": {"text": "Reported and Predicted Daily Recovered cases for Brazil using proposed Modified SEIRD model", "fontSize": 11, "offset": -18, "dx": -3},
   "mark": {"type": "line", "strokeWidth": 1.7},
   "encoding": {
    "x": {"field": "d", "type": "temporal", "scale": {"type": "utc", "domain": [1579651200000, 1609891200000], "range": [42, 575]}, "axis": {"offset": -67, "title": "Timeline", "values": [1579651200000,1580860800000,1582070400000,1583280000000,1584489600000,1585699200000,1586908800000,1588118400000,1589328000000,1590537600000,1591747200000,1592956800000,1594166400000,1595376000000,1596585600000,1597795200000,1599004800000,1600214400000,1601424000000,1602633600000,1603843200000,1605052800000,1606262400000,1607472000000,1608681600000,1609891200000]}},
    "y": {"field": "v", "type": "quantitative", "scale": {"domain": [0, 16000], "range": [357, 5]}, "axis": {"offset": -42, "format": "d", "title": "Number of cases", "titleX": -32, "values": [0,2000,4000,6000,8000,10000,12000,14000,16000]}},
    "color": {"field": "s", "type": "nominal", "scale": {"domain": ["Reported", "Predicted"], "range": ["#1F78C8", "#2A5FA8"]}, "legend": {"legendX": 46, "legendY": 73, "rowPadding": 13, "labelExpr": "datum.label + ' Cases in Brazil'"}},
    "strokeDash": {"field": "s", "type": "nominal", "scale": {"domain": ["Reported", "Predicted"], "range": [[1, 0], [2, 2]]}, "legend": {"legendX": 46, "legendY": 73, "rowPadding": 13, "labelExpr": "datum.label + ' Cases in Brazil'"}}
   }
  }]
 },
 {"resolve": {"scale": {"color": "independent", "strokeDash": "independent"}, "legend": {"color": "independent", "strokeDash": "independent"}},
  "title": {"text": "(d)", "orient": "bottom", "offset": 8, "fontSize": 20, "fontWeight": "normal", "frame": "bounds"},
  "vconcat": [{
   "width": 566, "height": 427,
   "data": {"name": "russia"},
   "title": {"text": ["Reported and Predicted Daily Recovered cases for Russia using proposed Modified SEIRD", "model"], "fontSize": 11.5, "lineHeight": 21, "offset": -40, "dx": 8},
   "mark": {"type": "line", "strokeWidth": 1.7},
   "encoding": {
    "x": {"field": "d", "type": "temporal", "scale": {"type": "utc", "domain": [1579651200000, 1609891200000], "range": [30, 563]}, "axis": {"offset": -70, "title": "Timeline", "values": [1579651200000,1580860800000,1582070400000,1583280000000,1584489600000,1585699200000,1586908800000,1588118400000,1589328000000,1590537600000,1591747200000,1592956800000,1594166400000,1595376000000,1596585600000,1597795200000,1599004800000,1600214400000,1601424000000,1602633600000,1603843200000,1605052800000,1606262400000,1607472000000,1608681600000,1609891200000]}},
    "y": {"field": "v", "type": "quantitative", "scale": {"domain": [0, 1600], "range": [357, 5]}, "axis": {"offset": -30, "format": "d", "title": "Number of cases", "titleX": -23, "values": [0,200,400,600,800,1000,1200,1400,1600]}},
    "color": {"field": "s", "type": "nominal", "scale": {"domain": ["Reported", "Predicted"], "range": ["#E8161B", "#D02020"]}, "legend": {"legendX": 40, "legendY": 74, "rowPadding": 14, "labelExpr": "datum.label + ' Cases in Russia'"}},
    "strokeDash": {"field": "s", "type": "nominal", "scale": {"domain": ["Reported", "Predicted"], "range": [[1, 0], [2, 2]]}, "legend": {"legendX": 40, "legendY": 74, "rowPadding": 14, "labelExpr": "datum.label + ' Cases in Russia'"}}
   }
  }]
 }
], "spacing": 29, "resolve": {"scale": {"color": "independent", "strokeDash": "independent"}, "legend": {"color": "independent", "strokeDash": "independent"}}},
{"hconcat": [
 {"resolve": {"scale": {"color": "independent", "strokeDash": "independent"}, "legend": {"color": "independent", "strokeDash": "independent"}},
  "title": {"text": "(e)", "orient": "bottom", "offset": 8, "fontSize": 20, "fontWeight": "normal", "frame": "bounds"},
  "vconcat": [{
   "width": 577, "height": 434,
   "data": {"name": "peru"},
   "title": {"text": ["Reported and Predicted Daily Recovered cases for Peru using proposed Modified SEIRD", "model"], "fontSize": 11.5, "lineHeight": 21, "offset": -41, "dx": -6},
   "mark": {"type": "line", "strokeWidth": 1.7},
   "encoding": {
    "x": {"field": "d", "type": "temporal", "scale": {"type": "utc", "domain": [1579651200000, 1609891200000], "range": [40, 573]}, "axis": {"offset": -72, "title": "Timeline", "values": [1579651200000,1580860800000,1582070400000,1583280000000,1584489600000,1585699200000,1586908800000,1588118400000,1589328000000,1590537600000,1591747200000,1592956800000,1594166400000,1595376000000,1596585600000,1597795200000,1599004800000,1600214400000,1601424000000,1602633600000,1603843200000,1605052800000,1606262400000,1607472000000,1608681600000,1609891200000]}},
    "y": {"field": "v", "type": "quantitative", "scale": {"domain": [0, 1800], "range": [362, 4]}, "axis": {"offset": -40, "format": "d", "title": "Number of cases", "titleX": -32, "values": [0,200,400,600,800,1000,1200,1400,1600,1800]}},
    "color": {"field": "s", "type": "nominal", "scale": {"domain": ["Reported", "Predicted"], "range": ["#3DB83D", "#2E9E50"]}, "legend": {"legendX": 40, "legendY": 59, "rowPadding": 16, "labelExpr": "datum.label + ' Cases in Peru'"}},
    "strokeDash": {"field": "s", "type": "nominal", "scale": {"domain": ["Reported", "Predicted"], "range": [[1, 0], [2, 2]]}, "legend": {"legendX": 40, "legendY": 59, "rowPadding": 16, "labelExpr": "datum.label + ' Cases in Peru'"}}
   }
  }]
 },
 {"resolve": {"scale": {"color": "independent", "strokeDash": "independent"}, "legend": {"color": "independent", "strokeDash": "independent"}},
  "title": {"text": "(f)", "orient": "bottom", "offset": 8, "fontSize": 20, "fontWeight": "normal", "frame": "bounds"},
  "vconcat": [{
   "width": 566, "height": 434,
   "data": {"name": "colombia"},
   "title": {"text": ["Reported and Predicted Daily Recovered cases for Colombia using proposed Modified SEIRD", "model"], "fontSize": 11.5, "lineHeight": 21, "offset": -41, "dx": 13},
   "mark": {"type": "line", "strokeWidth": 1.7},
   "encoding": {
    "x": {"field": "d", "type": "temporal", "scale": {"type": "utc", "domain": [1579651200000, 1609891200000], "range": [37, 563]}, "axis": {"offset": -75, "title": "Timeline", "values": [1579651200000,1580860800000,1582070400000,1583280000000,1584489600000,1585699200000,1586908800000,1588118400000,1589328000000,1590537600000,1591747200000,1592956800000,1594166400000,1595376000000,1596585600000,1597795200000,1599004800000,1600214400000,1601424000000,1602633600000,1603843200000,1605052800000,1606262400000,1607472000000,1608681600000,1609891200000]}},
    "y": {"field": "v", "type": "quantitative", "scale": {"domain": [0, 1600], "range": [359, 5]}, "axis": {"offset": -37, "format": "d", "title": "Number of cases", "titleX": -29, "values": [0,200,400,600,800,1000,1200,1400,1600]}},
    "color": {"field": "s", "type": "nominal", "scale": {"domain": ["Reported", "Predicted"], "range": ["#5B1FE0", "#6A3FD0"]}, "legend": {"legendX": 40, "legendY": 71, "rowPadding": 11, "labelExpr": "datum.label + ' Cases in Colombia'"}},
    "strokeDash": {"field": "s", "type": "nominal", "scale": {"domain": ["Reported", "Predicted"], "range": [[1, 0], [2, 2]]}, "legend": {"legendX": 40, "legendY": 71, "rowPadding": 11, "labelExpr": "datum.label + ' Cases in Colombia'"}}
   }
  }]
 }
], "spacing": 31, "resolve": {"scale": {"color": "independent", "strokeDash": "independent"}, "legend": {"color": "independent", "strokeDash": "independent"}}}
]
}
